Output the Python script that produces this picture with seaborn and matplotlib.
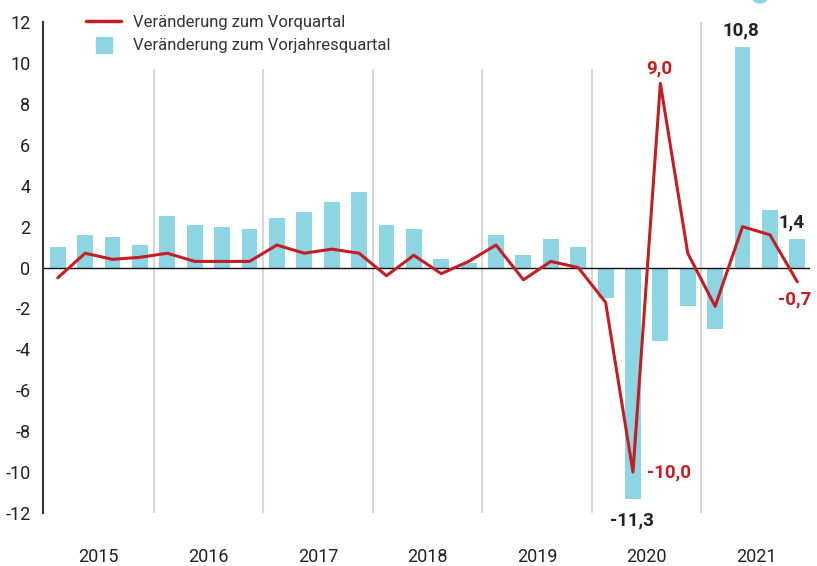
import matplotlib
matplotlib.use("Agg")
from matplotlib import pyplot as plt
from matplotlib.patches import Ellipse
from matplotlib.lines import Line2D
import seaborn as sns
import pandas as pd

sns.set_style("white")
plt.rcParams['font.family'] = ['Roboto', 'DejaVu Sans']

years = ["2015", "2016", "2017", "2018", "2019", "2020", "2021"]
quarters = [f"{y}Q{q}" for y in years for q in range(1, 5)]

# Veränderung zum Vorjahresquartal (bars)
yoy = [1.0, 1.6, 1.5, 1.1,
       2.5, 2.1, 2.0, 1.9,
       2.4, 2.7, 3.2, 3.7,
       2.1, 1.9, 0.4, 0.2,
       1.6, 0.6, 1.4, 1.0,
       -1.5, -11.3, -3.6, -1.9,
       -3.0, 10.8, 2.8, 1.4]

# Veränderung zum Vorquartal (line)
qoq = [-0.5, 0.7, 0.4, 0.5,
       0.7, 0.3, 0.3, 0.3,
       1.1, 0.7, 0.9, 0.7,
       -0.4, 0.6, -0.3, 0.3,
       1.1, -0.6, 0.3, 0.0,
       -1.7, -10.0, 9.0, 0.7,
       -1.9, 2.0, 1.6, -0.7]

red = "#c41e24"
cyan = "#8dd5e3"
dark = "#222222"

df = pd.DataFrame({"quarter": quarters, "yoy": yoy, "qoq": qoq})
df["pos"] = range(len(df))

fig = plt.figure(figsize=(8.17, 5.66), dpi=100)
ax = fig.add_axes([0.0526, 0.0936, 0.9384, 0.8674])

sns.barplot(data=df, x="quarter", y="yoy", color=cyan, width=0.58,
            saturation=1, edgecolor="none", ax=ax)
sns.lineplot(data=df, x="pos", y="qoq", color=red, linewidth=2.2, ax=ax)

ax.set_xlim(-0.54, 27.45)
ax.set_ylim(-12, 12)

# year separators
for i in range(1, 7):
    top = 12 if i == 6 else 9.7
    ax.vlines(4 * i - 0.5, -12, top, color="#d3d8dd", linewidth=1.5, zorder=0)

ax.axhline(0, color="#111111", linewidth=1.0, zorder=1)

for s in ["top", "right", "bottom"]:
    ax.spines[s].set_visible(False)
ax.spines["left"].set_color("#333333")
ax.spines["left"].set_linewidth(1.5)

ax.set_yticks(range(-12, 13, 2))
ax.set_yticklabels([str(v) for v in range(-12, 13, 2)])
ax.tick_params(axis="y", length=0, pad=9, labelsize=13, labelcolor=dark)
ax.set_xticks([4 * i + 1.5 for i in range(7)])
ax.set_xticklabels(years)
ax.tick_params(axis="x", length=0, pad=25, labelsize=13, labelcolor=dark)
ax.set_xlabel("")
ax.set_ylabel("")
ax.grid(False)

# value labels
lab = dict(fontsize=13.5, fontweight="bold", ha="center", va="center")
ax.annotate("9,0", (22, 9.0), xytext=(-1, 11), textcoords="offset points", color=red, **lab)
ax.annotate("-10,0", (21, -10.0), xytext=(10, 0), textcoords="offset points",
            color=red, fontsize=13.5, fontweight="bold", ha="left", va="center")
ax.annotate("-11,3", (21, -11.3), xytext=(-1, -16), textcoords="offset points", color=dark, **lab)
ax.annotate("10,8", (25, 10.8), xytext=(-1, 12), textcoords="offset points", color=dark, **lab)
ax.annotate("1,4", (27, 1.4), xytext=(-4, 12), textcoords="offset points", color=dark, **lab)
ax.annotate("-0,7", (27, -0.7), xytext=(-2, -13), textcoords="offset points", color=red, **lab)

handles = [Line2D([], [], color=red, linewidth=2.5),
           Line2D([], [], color=cyan, marker="s", linestyle="none", markersize=12)]
ax.legend(handles, ["Veränderung zum Vorquartal", "Veränderung zum Vorjahresquartal"],
          loc="upper left", bbox_to_anchor=(86 / 817, 1 - 15 / 566),
          bbox_transform=fig.transFigure, frameon=False, fontsize=12,
          borderaxespad=0, borderpad=0,
          handlelength=2.1, handletextpad=0.7, labelspacing=0.5, labelcolor="#333333")

fig.patches.append(Ellipse((760 / 817, 1 + 6 / 566), 18 / 817, 18 / 566,
                           transform=fig.transFigure, color=cyan))

fig.savefig("out.png", dpi=100)
